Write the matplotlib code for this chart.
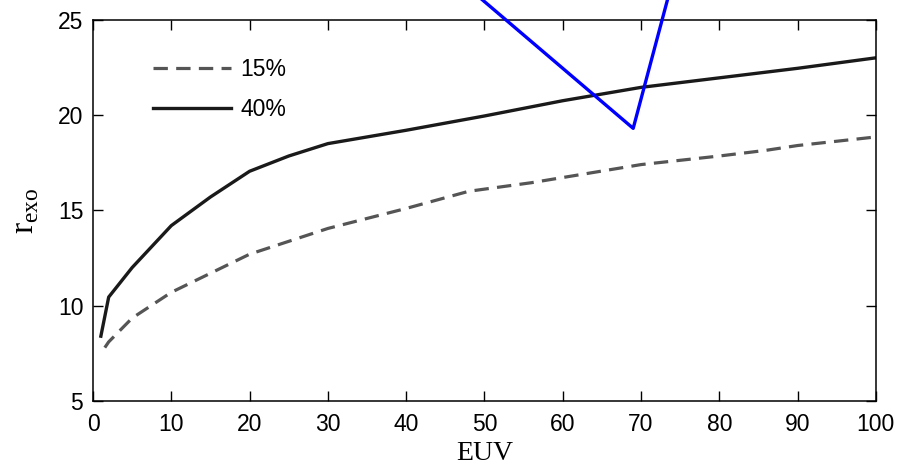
import matplotlib
matplotlib.use("Agg")
import matplotlib.pyplot as plt

# EUV values and exobase radius
euv_40 = [1, 2, 5, 10, 15, 20, 25, 30, 40, 50, 60, 70, 80, 90, 100]
rexo_40 = [8.4, 10.45, 12.0, 14.2, 15.7, 17.05, 17.85, 18.5, 19.2, 19.95, 20.75, 21.45, 21.95, 22.45, 23.0]

euv_15 = [1.5, 2, 5, 10, 20, 30, 40, 48, 56, 70, 80, 86, 90, 100]
rexo_15 = [7.8, 8.1, 9.35, 10.7, 12.7, 14.05, 15.1, 16.0, 16.45, 17.4, 17.85, 18.15, 18.4, 18.85]

# blue hand-drawn "V" mark (data coords, goes past the top of the axes)
mark_x = [47.0, 69.0, 74.0]
mark_y = [27.0, 19.3, 27.0]

plt.rcParams['font.family'] = ['Liberation Sans', 'DejaVu Sans']
plt.rcParams['mathtext.fontset'] = 'custom'
plt.rcParams['mathtext.rm'] = 'Liberation Serif'

fig = plt.figure(figsize=(9.05, 4.69), dpi=100)
ax = fig.add_axes([0.1028, 0.145, 0.865, 0.813])

ax.plot(euv_15, rexo_15, color='#555555', lw=2.3, dashes=(4.5, 2.6), label='15%')
ax.plot(euv_40, rexo_40, color='#1a1a1a', lw=2.4, label='40%')

ax.plot(mark_x, mark_y, color='#0000ff', lw=2.4, clip_on=False, zorder=5)

ax.set_xlim(0, 100)
ax.set_ylim(5, 25)
ax.set_xticks(range(0, 101, 10))
ax.set_yticks([5, 10, 15, 20, 25])
ax.tick_params(direction='in', length=7, width=1, top=True, right=True,
               labelsize=16.5)
ax.tick_params(axis='x', pad=9)
ax.tick_params(axis='y', pad=7)
for s in ax.spines.values():
    s.set_linewidth(1.1)

ax.set_xlabel('EUV', family='Liberation Serif', fontsize=20, labelpad=3)
ax.set_ylabel('r$_{\\mathregular{exo}}$', family='Liberation Serif',
              fontsize=24, labelpad=12)

ax.legend(loc='upper left', bbox_to_anchor=(0.077, 0.9), frameon=False,
          fontsize=16.5, handlelength=3.4, handletextpad=0.4,
          labelspacing=0.75, borderpad=0, borderaxespad=0)

fig.savefig('out.png', dpi=100)
